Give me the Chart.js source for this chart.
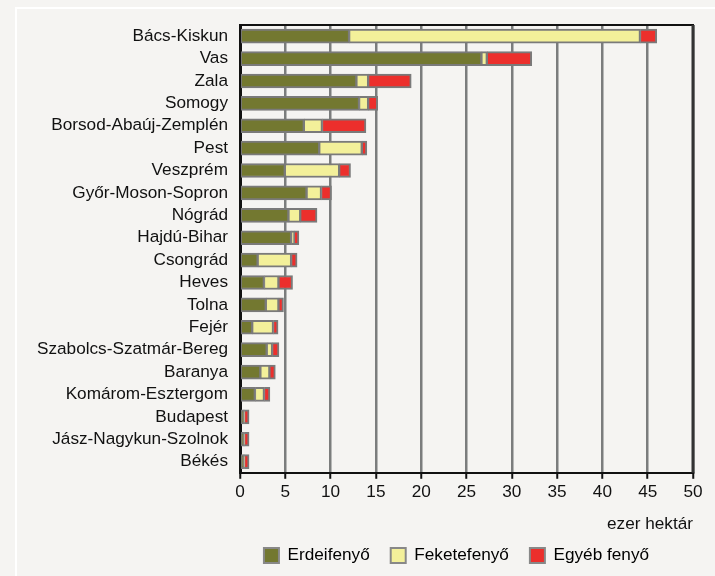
<!DOCTYPE html>
<html>
<head>
<meta charset="utf-8">
<script src="https://cdn.jsdelivr.net/npm/chart.js@4"></script>
<style>
  html, body { margin: 0; padding: 0; background: #f5f4f2; }
  #wrap { width: 715px; height: 576px; position: relative; }
</style>
</head>
<body>
<div id="wrap"><canvas id="chart" width="715" height="576"></canvas></div>
<script>
const categories = [
  "Bács-Kiskun", "Vas", "Zala", "Somogy", "Borsod-Abaúj-Zemplén", "Pest",
  "Veszprém", "Győr-Moson-Sopron", "Nógrád", "Hajdú-Bihar", "Csongrád",
  "Heves", "Tolna", "Fejér", "Szabolcs-Szatmár-Bereg", "Baranya",
  "Komárom-Esztergom", "Budapest", "Jász-Nagykun-Szolnok", "Békés"
];
const erdeifenyo = [12.1, 26.7, 12.9, 13.2, 7.1, 8.8, 5.0, 7.4, 5.4, 5.7, 2.0, 2.7, 2.9, 1.4, 3.0, 2.3, 1.7, 0.4, 0.4, 0.4];
const feketefenyo = [32.1, 0.6, 1.3, 1.0, 2.0, 4.7, 6.0, 1.6, 1.3, 0.3, 3.7, 1.6, 1.4, 2.3, 0.6, 1.0, 1.0, 0.1, 0.1, 0.1];
const egyebFenyo = [1.8, 4.9, 4.7, 1.0, 4.8, 0.5, 1.2, 1.1, 1.8, 0.5, 0.6, 1.5, 0.5, 0.5, 0.7, 0.6, 0.6, 0.5, 0.5, 0.5];
const seriesNames = ["Erdeifenyő", "Feketefenyő", "Egyéb fenyő"];
const xTicks = [0, 5, 10, 15, 20, 25, 30, 35, 40, 45, 50];

const FONT = "'Liberation Sans', Arial, sans-serif";
Chart.defaults.font.family = FONT;
Chart.defaults.font.size = 17.2;
Chart.defaults.color = "#111";

const edge = "#7a7a7a";
function seg(label, data, color) {
  return {
    label, data,
    backgroundColor: color,
    borderColor: edge,
    borderWidth: { top: 2, bottom: 2, left: 1, right: 2 },
    borderSkipped: false,
    barThickness: 14
  };
}

// panel background, frame lines, legend nudge
const frame = {
  id: "frame",
  afterLayout(chart) {
    // legend in the reference sits a bit left of the plot centre
    chart.legend.left -= 10;
    chart.legend.right -= 10;
  },
  beforeDraw(chart) {
    const c = chart.ctx;
    c.save();
    c.fillStyle = "#f5f4f2";
    c.fillRect(0, 0, chart.width, chart.height);
    c.fillStyle = "#ffffff";
    c.fillRect(15, 7, chart.width - 15, 2);
    c.fillRect(15, 7, 2, chart.height - 7);
    c.restore();
  },
  afterDraw(chart) {
    const a = chart.chartArea, c = chart.ctx;
    c.save();
    c.strokeStyle = "#111";
    c.lineWidth = 2;
    c.beginPath();
    c.moveTo(a.left, a.top);
    c.lineTo(a.right + 1, a.top);
    c.stroke();
    c.strokeStyle = "#333";
    c.lineWidth = 3;
    c.beginPath();
    c.moveTo(a.right, a.top);
    c.lineTo(a.right, a.bottom);
    c.stroke();
    c.restore();
  }
};

new Chart(document.getElementById("chart"), {
  type: "bar",
  data: {
    labels: categories,
    datasets: [
      seg(seriesNames[0], erdeifenyo, "#737830"),
      seg(seriesNames[1], feketefenyo, "#f3f09a"),
      seg(seriesNames[2], egyebFenyo, "#ec2f2c")
    ]
  },
  options: {
    indexAxis: "y",
    responsive: false,
    animation: false,
    layout: { padding: { top: 25, right: 22, left: 0, bottom: 2 } },
    plugins: {
      tooltip: { enabled: false },
      legend: {
        position: "bottom",
        fullSize: false,
        labels: {
          boxWidth: 15,
          boxHeight: 15,
          padding: 21,
          color: "#111",
          generateLabels(chart) {
            return chart.data.datasets.map((d, i) => ({
              text: d.label,
              fillStyle: d.backgroundColor,
              strokeStyle: "#888",
              lineWidth: 2,
              datasetIndex: i
            }));
          }
        }
      }
    },
    scales: {
      x: {
        stacked: true,
        min: 0,
        max: 50,
        afterBuildTicks(s) { s.ticks = xTicks.map(v => ({ value: v })); },
        ticks: { padding: 3, color: "#111" },
        grid: { color: "#7b7d7d", lineWidth: 2.5, tickColor: "#111", tickLength: 6, tickWidth: 2 },
        border: { display: true, color: "#111", width: 2 },
        title: { display: true, text: "ezer hektár", align: "end", color: "#111", padding: { top: 0, bottom: -9 } },
        afterFit(s) { s.height = 53; }
      },
      y: {
        stacked: true,
        grid: { drawOnChartArea: false, drawTicks: false },
        border: { display: true, color: "#111", width: 3 },
        ticks: { padding: 12, color: "#111", autoSkip: false },
        afterFit(s) { s.width = 240; }
      }
    }
  },
  plugins: [frame]
});
</script>
</body>
</html>
